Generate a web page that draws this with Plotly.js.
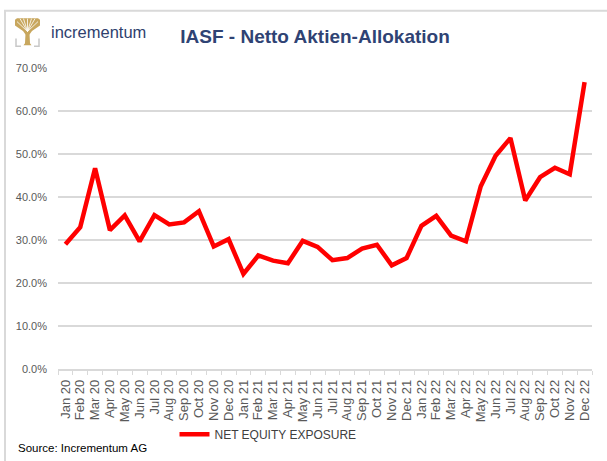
<!DOCTYPE html>
<html>
<head>
<meta charset="utf-8">
<script src="https://cdn.plot.ly/plotly-3.0.1.min.js"></script>
<style>
html,body{margin:0;padding:0;background:#fff;}
#chart{width:607px;height:461px;}
</style>
</head>
<body>
<div id="chart"></div>
<script>
var months = ["Jan 20","Feb 20","Mar 20","Apr 20","May 20","Jun 20","Jul 20","Aug 20","Sep 20","Oct 20","Nov 20","Dec 20",
  "Jan 21","Feb 21","Mar 21","Apr 21","May 21","Jun 21","Jul 21","Aug 21","Sep 21","Oct 21","Nov 21","Dec 21",
  "Jan 22","Feb 22","Mar 22","Apr 22","May 22","Jun 22","Jul 22","Aug 22","Sep 22","Oct 22","Nov 22","Dec 22"];
var netEquityExposure = [29.0,33.0,46.7,32.3,35.7,29.7,35.8,33.6,34.1,36.7,28.5,30.2,
  22.1,26.4,25.2,24.6,29.8,28.4,25.3,25.8,28.0,28.9,24.1,25.8,
  33.3,35.6,31.0,29.7,42.5,49.6,53.7,39.2,44.6,46.8,45.3,66.7];
var seriesName = "NET EQUITY EXPOSURE";
var titleText = "IASF - Netto Aktien-Allokation";
var sourceText = "Source: Incrementum AG";
var logoText = "incrementum";

var L = 58, R = 15, T = 68, B = 88, W = 607, H = 461;
var PW = W - L - R, PH = H - T - B;
function px(x){ return (x - L) / PW; }
function py(y){ return (H - B - y) / PH; }
function pathOf(pts, close){
  var s = pts.map(function(p,i){ return (i? "L":"M") + px(p[0]).toFixed(5) + "," + py(p[1]).toFixed(5); }).join(" ");
  return close ? s + " Z" : s;
}

var gold = "#c8a75e";
var shapes = [
  {type:"rect", xref:"paper", yref:"paper", x0:px(5), x1:px(660), y0:py(10), y1:py(520),
   line:{color:"#d9d9d9", width:2}, fillcolor:"rgba(0,0,0,0)", layer:"below"},
  // logo crown
  {type:"path", xref:"paper", yref:"paper",
   path:pathOf([[15,19],[17,17.5],[38,17.5],[40,19],[40,25],[32,30.5],[29.5,34],[25.5,34],[23,30.5],[15,25]], true),
   fillcolor:gold, line:{width:0}},
  // logo trunk
  {type:"path", xref:"paper", yref:"paper", path:pathOf([[25.5,33],[29.5,33],[30,43],[31.5,45],[23.5,45],[25,43]], true),
   fillcolor:gold, line:{width:0}},
  // logo brackets
  {type:"path", xref:"paper", yref:"paper", path:pathOf([[16,38],[16,46],[21,46]], false),
   line:{color:"#c8c8c8", width:1.5}},
  {type:"path", xref:"paper", yref:"paper", path:pathOf([[39,38],[39,46],[34,46]], false),
   line:{color:"#c8c8c8", width:1.5}}
];
var gaps = [[17,21],[20,18],[23.5,18],[27.5,18],[31.5,18],[35,18],[38,21]];
gaps.forEach(function(p){
  shapes.push({type:"line", xref:"paper", yref:"paper", x0:px(27.5), y0:py(31), x1:px(p[0]), y1:py(p[1]),
    line:{color:"#ffffff", width:0.8}});
});

var trace = {
  x: months, y: netEquityExposure, type:"scatter", mode:"lines", name: seriesName,
  line:{color:"#ff0000", width:4.5}, showlegend:true, hoverinfo:"x+y"
};

var layout = {
  width: W, height: H,
  margin:{l:L, r:R, t:T, b:B, pad:0},
  paper_bgcolor:"#ffffff", plot_bgcolor:"#ffffff",
  font:{family:"Liberation Sans, Arial, sans-serif", color:"#595959", size:11},
  title:{text: titleText, x:0.519, xanchor:"center", xref:"container", y:1-36/H, yanchor:"middle", yref:"container",
    font:{family:"Liberation Sans, Arial, sans-serif", size:19, weight:"bold", color:"#2f4374"}},
  xaxis:{type:"category", tickmode:"linear", tick0:0, dtick:1, tickangle:-90, ticks:"outside", tickson:"boundaries",
    ticklen:4, tickcolor:"#d9d9d9", tickwidth:1,
    showgrid:false, showline:true, linecolor:"#d9d9d9", linewidth:1.5, range:[-0.5, 35.5], ticklabelstandoff:4,
    tickfont:{size:13, color:"#595959"}},
  yaxis:{range:[0,70], dtick:10, tick0:0, tickformat:".1f", ticksuffix:"%", showgrid:true, gridcolor:"#d9d9d9", gridwidth:1.5,
    zeroline:false, showline:false, ticks:"", ticklabelstandoff:10, tickfont:{size:11, color:"#595959"}},
  showlegend:true,
  legend:{orientation:"h", x:px(268), xanchor:"center", y:py(439), yanchor:"middle",
    font:{size:12, color:"#404040"}, bgcolor:"rgba(0,0,0,0)", itemwidth:30},
  annotations:[
    {text: sourceText, xref:"paper", yref:"paper", x:px(16), y:py(453), xanchor:"left", yanchor:"middle",
     showarrow:false, font:{size:11.5, color:"#000000"}},
    {text: logoText, xref:"paper", yref:"paper", x:px(49), y:py(32), xanchor:"left", yanchor:"middle",
     showarrow:false, font:{size:16.5, color:"#2f3f6e"}}
  ],
  shapes: shapes
};

Plotly.newPlot("chart", [trace], layout, {displayModeBar:false, staticPlot:true});
</script>
</body>
</html>
